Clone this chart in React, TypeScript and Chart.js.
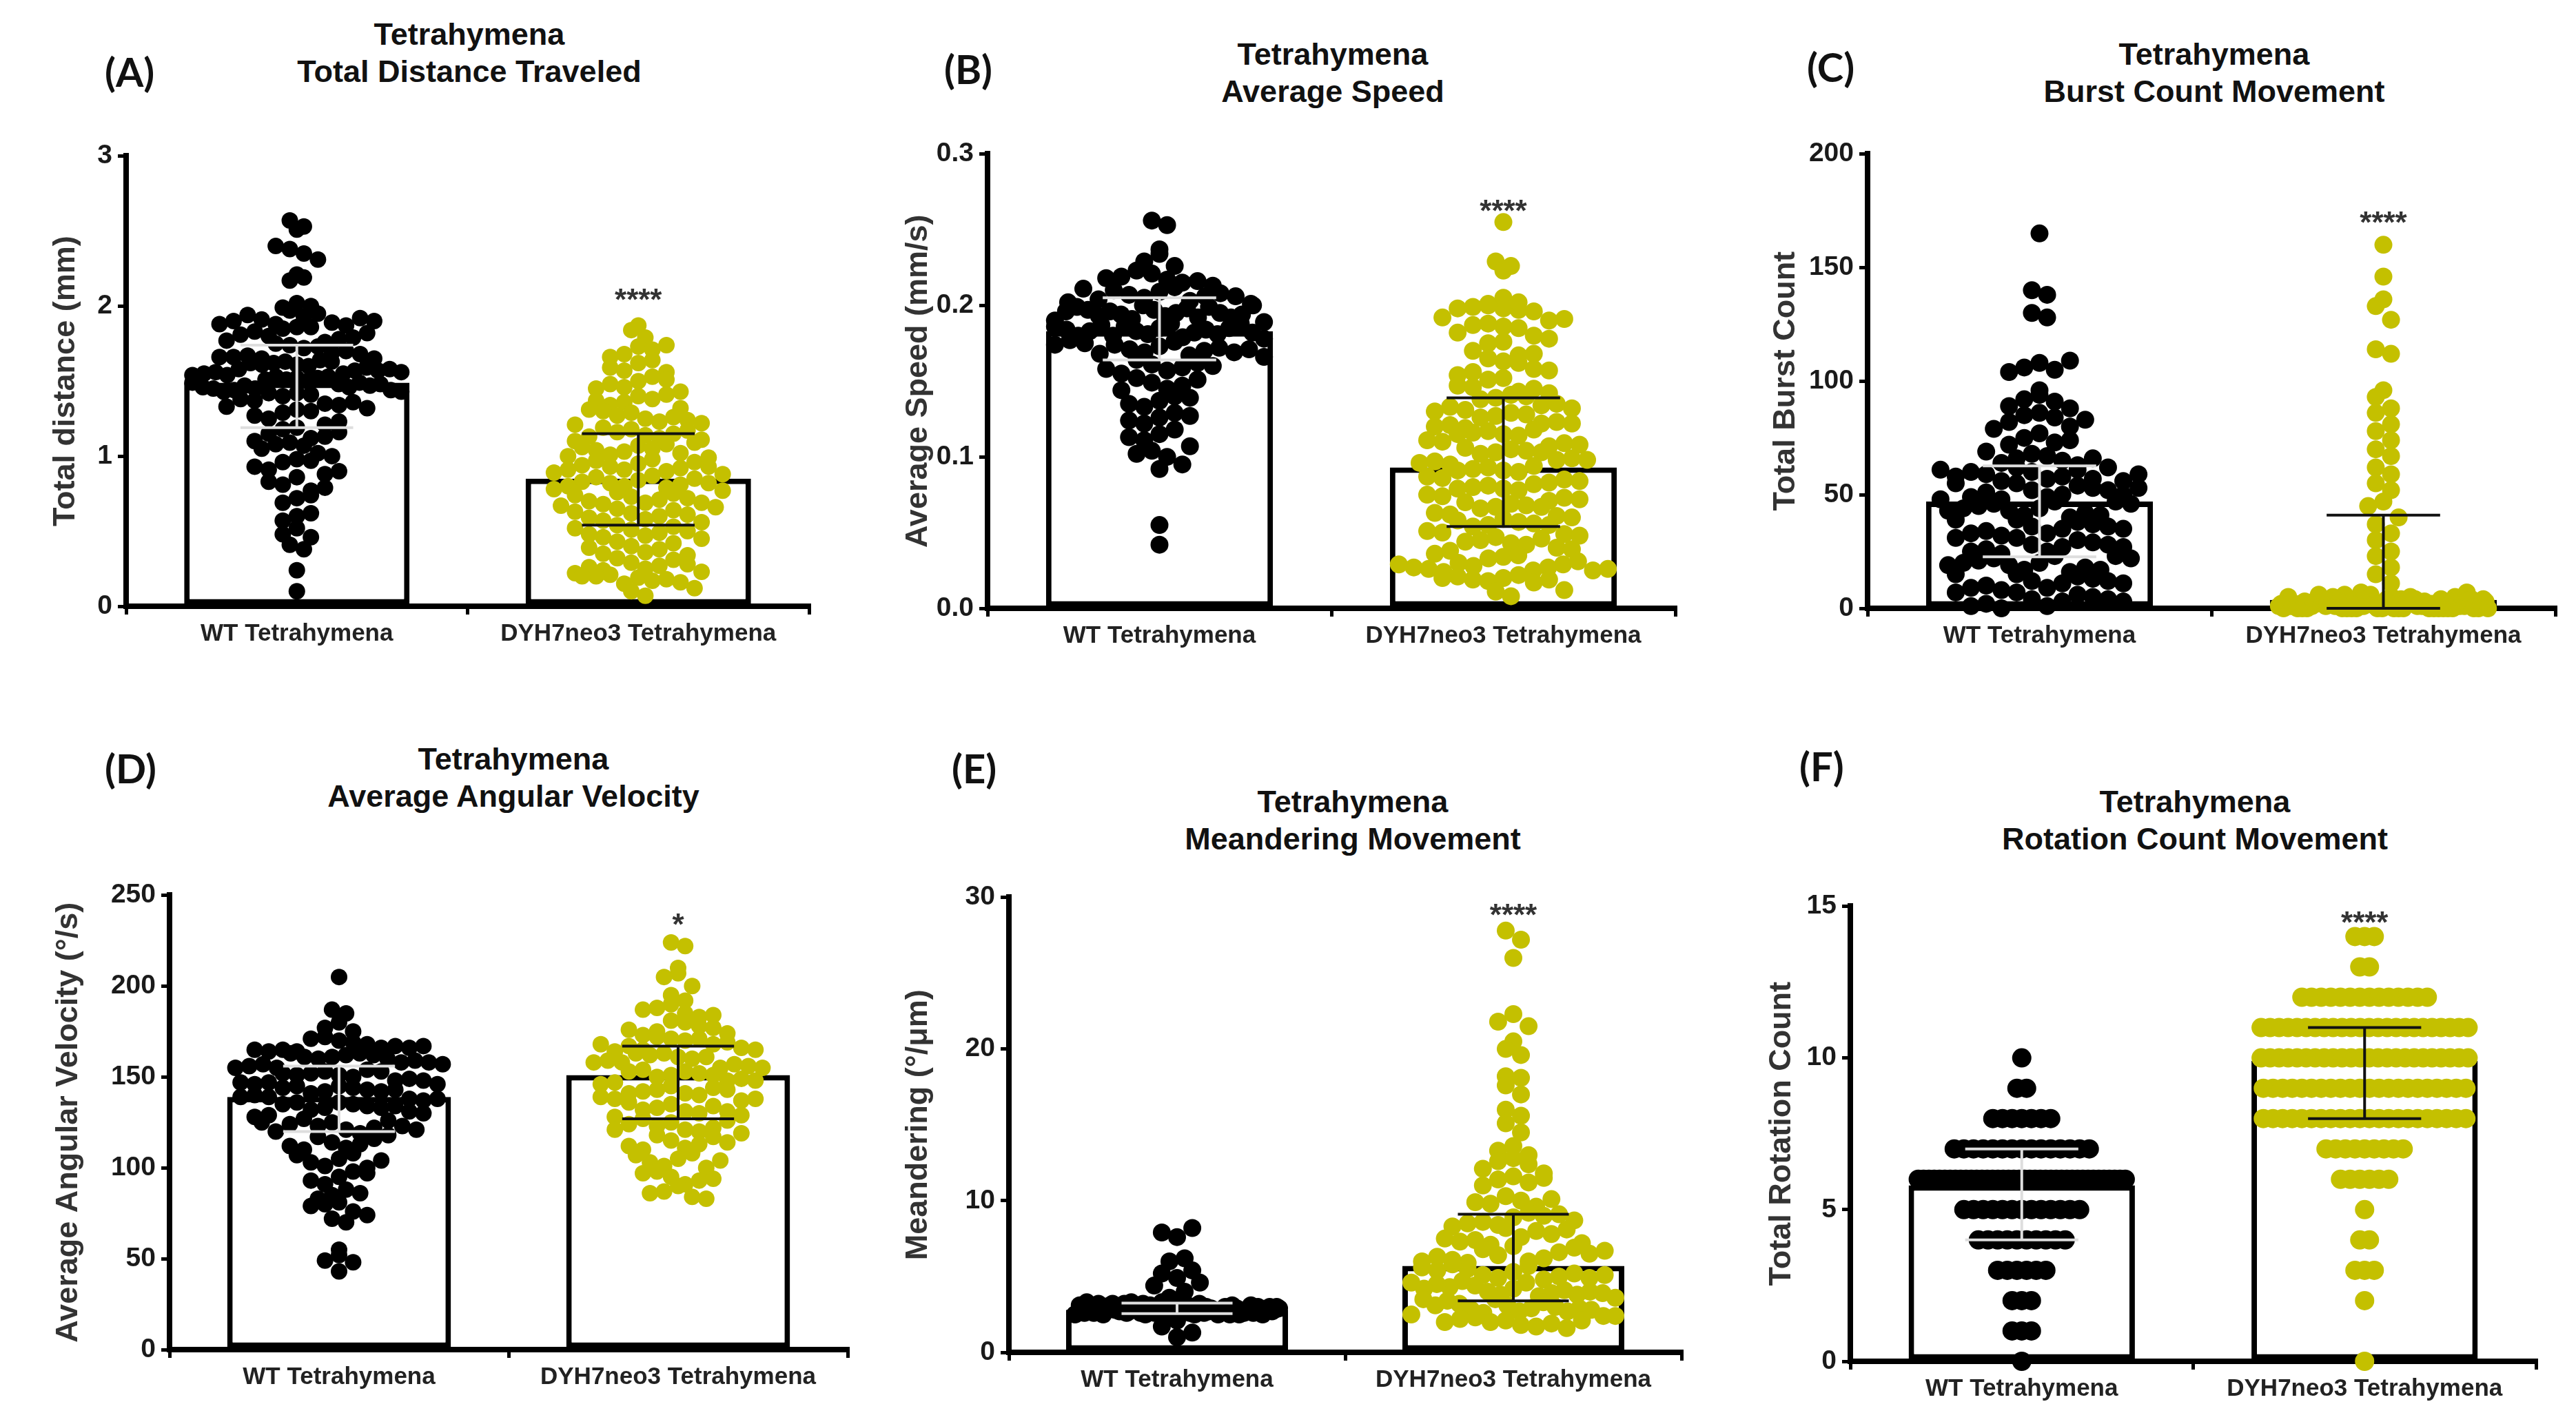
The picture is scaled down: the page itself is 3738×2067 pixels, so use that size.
import React, { useEffect, useRef } from 'react';
import { Chart, registerables } from 'chart.js';

Chart.register(...registerables);

// ---------------- DATA ----------------
const categories = ['WT Tetrahymena', 'DYH7neo3 Tetrahymena'];

// (A) Total distance traveled (mm)
const distanceWT = [2.57, 2.53, 2.51, 2.38, 2.35, 2.4, 2.31, 2.21, 2.17, 2.19, 2.02, 1.99, 2.0, 1.97,
  1.93, 1.88, 1.95, 1.86, 1.91, 1.89, 1.94, 1.87, 1.9, 1.92, 1.85, 1.88, 1.9, 1.86,
  1.8, 1.76, 1.83, 1.74, 1.78, 1.72, 1.81, 1.75, 1.79, 1.73, 1.77, 1.82,
  1.65, 1.61, 1.69, 1.63, 1.67, 1.6, 1.7, 1.62, 1.66, 1.64, 1.68, 1.61, 1.63, 1.66, 1.62, 1.65,
  1.55, 1.52, 1.58, 1.51, 1.57, 1.54, 1.59, 1.5, 1.56, 1.53, 1.57, 1.52, 1.55, 1.58, 1.54, 1.56, 1.51, 1.53,
  1.45, 1.48, 1.42, 1.47, 1.4, 1.46, 1.44, 1.49, 1.41, 1.43, 1.47, 1.45, 1.48, 1.42, 1.46, 1.44, 1.49, 1.43,
  1.35, 1.31, 1.37, 1.29, 1.34, 1.38, 1.3, 1.36, 1.33, 1.32,
  1.25, 1.21, 1.27, 1.19, 1.23, 1.18,
  1.12, 1.09, 1.15, 1.07, 1.13, 1.1, 1.16, 1.08,
  1.02, 0.98, 1.05, 0.96, 1.0, 0.97,
  0.91, 0.88, 0.93, 0.86, 0.9,
  0.81, 0.77, 0.83, 0.79, 0.72, 0.69, 0.74, 0.6, 0.57, 0.62, 0.52, 0.48, 0.46, 0.41, 0.38, 0.24, 0.1];
const distanceDYH = [1.87, 1.84, 1.79, 1.73, 1.68, 1.71, 1.66, 1.74, 1.62, 1.57, 1.64, 1.59, 1.56,
  1.5, 1.46, 1.53, 1.48, 1.51, 1.45, 1.4, 1.36, 1.43, 1.38, 1.34, 1.41, 1.37,
  1.29, 1.25, 1.32, 1.27, 1.23, 1.3, 1.26, 1.31, 1.24,
  1.18, 1.14, 1.21, 1.16, 1.12, 1.19, 1.15, 1.22, 1.13, 1.17,
  1.07, 1.03, 1.1, 1.05, 1.01, 1.08, 1.04, 1.11, 1.02, 1.06, 1.09,
  0.95, 0.91, 0.98, 0.93, 0.9, 0.97, 0.92, 1.0, 0.94, 0.96, 0.91, 0.99, 0.93,
  0.84, 0.8, 0.87, 0.82, 0.79, 0.86, 0.81, 0.89, 0.83, 0.85, 0.8, 0.88, 0.82,
  0.73, 0.69, 0.76, 0.71, 0.68, 0.75, 0.7, 0.78, 0.72, 0.74, 0.69, 0.77,
  0.62, 0.58, 0.65, 0.6, 0.57, 0.64, 0.59, 0.67, 0.61, 0.63, 0.66,
  0.51, 0.47, 0.54, 0.49, 0.46, 0.53, 0.48, 0.56, 0.5, 0.52,
  0.4, 0.36, 0.43, 0.38, 0.35, 0.42, 0.39, 0.45,
  0.29, 0.25, 0.32, 0.27, 0.24, 0.31, 0.26, 0.34, 0.28,
  0.19, 0.15, 0.22, 0.17, 0.21, 0.18, 0.2, 0.16, 0.23, 0.2, 0.12, 0.1, 0.07];
const distanceMean = [1.49, 0.85];
const distanceLow = [1.19, 0.54];
const distanceHigh = [1.74, 1.15];
const distanceTicks = [0, 1, 2, 3];

// (B) Average speed (mm/s)
const speedWT = [0.256, 0.253, 0.237, 0.234, 0.229, 0.226,
  0.221, 0.217, 0.223, 0.215, 0.219, 0.216, 0.218,
  0.209, 0.205, 0.212, 0.207, 0.203, 0.21, 0.206, 0.213, 0.204, 0.208, 0.211, 0.206,
  0.197, 0.193, 0.2, 0.195, 0.191, 0.198, 0.194, 0.202, 0.192, 0.196, 0.199, 0.193, 0.201, 0.195, 0.197, 0.192, 0.199, 0.194, 0.196, 0.2,
  0.185, 0.181, 0.188, 0.183, 0.179, 0.186, 0.182, 0.19, 0.18, 0.184, 0.187, 0.181, 0.189, 0.183, 0.185, 0.18, 0.188, 0.184, 0.182, 0.186,
  0.173, 0.169, 0.176, 0.171, 0.167, 0.174, 0.17, 0.178, 0.168, 0.172, 0.175, 0.169, 0.177, 0.171, 0.174,
  0.161, 0.157, 0.164, 0.159, 0.155, 0.162, 0.158, 0.166, 0.16,
  0.149, 0.145, 0.152, 0.147, 0.144, 0.151,
  0.137, 0.133, 0.14, 0.135, 0.139, 0.126, 0.122, 0.129, 0.124, 0.127,
  0.115, 0.111, 0.118, 0.113, 0.104, 0.1, 0.107, 0.102, 0.095, 0.092, 0.055, 0.042];
const speedDYH = [0.255, 0.229, 0.226, 0.223, 0.205,
  0.201, 0.198, 0.2, 0.197, 0.199, 0.196, 0.202, 0.198,
  0.19, 0.186, 0.192, 0.188, 0.185, 0.191, 0.187,
  0.18, 0.176, 0.182, 0.178, 0.175,
  0.167, 0.163, 0.17, 0.165, 0.162, 0.168,
  0.156, 0.152, 0.158, 0.154, 0.151, 0.157,
  0.143, 0.139, 0.146, 0.141, 0.138, 0.145, 0.14, 0.147, 0.142,
  0.131, 0.127, 0.134, 0.129, 0.126, 0.133, 0.128, 0.135, 0.13, 0.132,
  0.119, 0.115, 0.122, 0.117, 0.114, 0.121, 0.116, 0.123, 0.118, 0.12, 0.115, 0.122,
  0.107, 0.103, 0.11, 0.105, 0.102, 0.109, 0.104, 0.111, 0.106, 0.108, 0.103,
  0.095, 0.091, 0.098, 0.093, 0.09, 0.097, 0.092, 0.099, 0.094, 0.096, 0.091, 0.098,
  0.083, 0.079, 0.086, 0.081, 0.078, 0.085, 0.08, 0.087, 0.082, 0.084, 0.079,
  0.071, 0.067, 0.074, 0.069, 0.066, 0.073, 0.068, 0.075, 0.07, 0.072, 0.067,
  0.059, 0.055, 0.062, 0.057, 0.054, 0.061, 0.056, 0.063, 0.058, 0.06, 0.055,
  0.047, 0.043, 0.05, 0.045, 0.042, 0.049, 0.044, 0.051, 0.046, 0.048,
  0.038, 0.034, 0.04, 0.036, 0.033, 0.039, 0.035,
  0.028, 0.025, 0.03, 0.027, 0.024, 0.029, 0.026, 0.031, 0.027, 0.025, 0.029, 0.026,
  0.02, 0.018, 0.022, 0.019, 0.017, 0.021, 0.019, 0.02, 0.012, 0.011, 0.008];
const speedMean = [0.183, 0.093];
const speedLow = [0.164, 0.054];
const speedHigh = [0.205, 0.139];
const speedTicks = [0, 0.1, 0.2, 0.3];

// (C) Total burst count
const burstWT = [165, 140, 138, 130, 128, 108, 106, 105, 104, 109, 96, 94, 92, 91, 89, 88, 86,
  85, 84, 82, 80, 79, 83, 77, 75, 73, 72, 74, 68, 67, 66, 65, 64, 63, 69, 66,
  60, 57, 62, 58, 56, 61, 59, 57, 60, 62, 58, 56, 61, 59,
  52, 49, 55, 50, 48, 54, 51, 53, 49, 52, 55, 50, 48, 53,
  44, 41, 47, 43, 40, 46, 42, 45, 41, 44, 47, 43, 46,
  36, 33, 39, 35, 32, 38, 34, 37, 33, 36, 39, 35,
  28, 25, 31, 27, 24, 30, 26, 29, 25, 28, 31, 27,
  20, 17, 23, 19, 16, 22, 18, 21, 17, 20, 23, 19, 22,
  12, 9, 15, 11, 8, 14, 10, 13, 9, 12, 15, 11,
  4, 1, 7, 3, 0, 6, 2, 5, 1, 4, 7, 3];
const burstDYH = [160, 146, 136, 133, 127, 114, 112, 96, 93, 88, 86, 81, 78, 74, 70, 67, 62, 59, 55,
  52, 47, 45, 40, 37, 33, 30, 25, 23, 18, 15, 11,
  0, 2, 1, 4, 0, 3, 1, 5, 2, 0, 6, 1, 3, 0, 2, 4, 1, 0, 7, 2, 1, 3, 0, 5, 1, 2, 0, 4, 3, 1, 0, 2, 6, 1,
  0, 3, 2, 1, 4, 0, 1, 2, 5, 0, 3, 1, 2, 0, 1, 4, 2, 0, 3, 1, 6, 0, 2, 1, 3, 0, 1, 5, 2, 4, 0, 1, 3, 2,
  0, 1, 2, 7, 0, 3, 1, 4, 2, 0, 1, 3, 5, 0, 2, 1, 0, 4, 2, 3, 1, 0];
const burstMean = [47, 3.7];
const burstLow = [22.7, 0];
const burstHigh = [62.7, 41];
const burstTicks = [0, 50, 100, 150, 200];

// (D) Average angular velocity (deg/s)
const angularWT = [205, 187, 185, 180, 177, 175, 170, 172, 169, 171, 168,
  164, 161, 166, 162, 160, 165, 163, 167, 161, 164, 166, 162, 165, 163, 160, 167,
  155, 151, 158, 153, 150, 157, 152, 159, 154, 156, 151, 158, 153, 155, 157, 152,
  145, 142, 148, 144, 141, 147, 143, 149, 145, 146, 142, 148, 144, 147, 143, 146,
  136, 133, 139, 135, 132, 138, 134, 140, 136, 137, 133, 139, 135, 138, 134,
  125, 121, 129, 123, 119, 127, 122, 131, 124, 126, 120, 128, 123, 130, 125, 121,
  114, 111, 117, 113, 110, 116, 112, 118, 105, 101, 108, 103, 100, 107, 104,
  95, 91, 98, 93, 97, 85, 81, 88, 83, 80, 86, 76, 72, 79, 74, 70, 55, 52, 49, 48, 43];
const angularDYH = [224, 222, 210, 207, 205, 200, 195, 192, 190,
  185, 181, 188, 183, 180, 187, 184, 175, 171, 178, 173, 170, 177, 172, 176, 174, 171,
  165, 161, 168, 163, 160, 167, 162, 169, 164, 166, 161, 168, 163, 165,
  155, 151, 158, 153, 150, 157, 152, 159, 154, 156, 151, 158, 153, 155,
  145, 141, 148, 143, 140, 147, 142, 149, 144, 146, 141, 148, 143,
  135, 131, 138, 133, 130, 137, 132, 139, 134, 136, 131, 138,
  125, 121, 128, 123, 120, 127, 122, 129, 124, 126, 121,
  115, 111, 118, 113, 110, 117, 112, 119, 114,
  105, 101, 108, 103, 100, 107, 104, 95, 91, 98, 93, 90, 97, 94, 87, 84, 86, 83];
const angularMean = [139, 151];
const angularLow = [120, 127];
const angularHigh = [156, 167];
const angularTicks = [0, 50, 100, 150, 200, 250];

// (E) Meandering (deg/um)
const meanderWT = [2.8, 2.5, 3.1, 2.6, 2.9, 3.2, 2.7, 3.0, 2.5, 3.1, 2.8, 2.6, 3.3, 2.7, 2.9, 2.5, 3.0, 2.8, 2.6, 3.2,
  2.7, 2.9, 3.1, 2.6, 2.8, 3.0, 2.5, 2.7, 3.2, 2.9, 2.6, 2.8, 3.1, 2.7, 3.0, 2.5, 2.9, 2.6, 3.3, 2.8,
  2.7, 3.0, 2.6, 2.9, 3.2, 2.5, 2.8, 3.1, 2.7, 2.6, 3.0, 2.9, 2.8, 2.5, 3.2, 2.7, 3.1, 2.6, 2.9, 2.8,
  3.0, 2.7, 2.5, 3.1, 2.8, 2.6, 3.2, 2.9, 2.7, 3.0, 2.6, 2.8, 3.1, 2.5, 2.9, 2.7, 3.3, 2.8, 2.6, 3.0,
  2.9, 2.7, 3.1, 2.8, 2.6, 3.0, 2.5, 2.9,
  2.1, 1.7, 1.3, 1.0,
  3.6, 4.0, 4.4, 4.6, 4.9, 5.2, 5.4, 6.0, 6.2, 7.6, 7.9, 8.2];
const meanderDYH = [27.8, 27.2, 26.0, 22.3, 21.8, 21.5, 20.5, 20.0, 19.6, 18.2, 18.1, 17.6, 17.0,
  16.0, 15.6, 15.1, 14.5, 13.6, 13.3, 13.0, 12.8, 12.6, 12.4, 12.1, 11.8, 11.6, 11.4, 11.2, 11.0, 11.5,
  10.3, 10.0, 9.8, 9.6, 9.9, 10.1, 8.9, 8.4, 9.2, 8.6, 8.2, 9.0, 8.5, 9.1, 8.3, 8.7,
  7.6, 7.1, 8.0, 7.4, 7.0, 7.8, 7.3, 8.1, 7.5, 7.2,
  6.4, 6.0, 6.8, 6.2, 5.9, 6.6, 6.1, 6.9, 6.3, 6.5, 6.0, 6.7,
  5.3, 4.9, 5.7, 5.1, 4.8, 5.5, 5.0, 5.8, 5.2, 5.4, 4.9, 5.6, 5.1,
  4.2, 3.8, 4.6, 4.0, 3.7, 4.4, 3.9, 4.7, 4.1, 4.3, 3.8, 4.5, 4.0, 4.2, 3.9, 4.6,
  3.1, 2.7, 3.5, 2.9, 2.6, 3.3, 2.8, 3.6, 3.0, 3.2, 2.7, 3.4, 2.9, 3.1, 2.8, 3.5,
  2.1, 1.8, 2.4, 2.0, 1.7, 2.3, 1.9, 2.5, 2.2, 1.6, 2.0, 2.4, 2.1];
const meanderMean = [2.8, 5.7];
const meanderLow = [2.55, 3.4];
const meanderHigh = [3.25, 9.1];
const meanderTicks = [0, 10, 20, 30];

// (F) Total rotation count: number of cells observed at each count level
const rotationLevels = [0, 1, 2, 3, 4, 5, 6, 7, 8, 9, 10, 11, 12, 13, 14];
const rotationCountsWT = [1, 3, 3, 6, 10, 13, 40, 15, 7, 2, 1, 0, 0, 0, 0];
const rotationCountsDYH = [1, 0, 1, 3, 2, 1, 6, 9, 22, 22, 24, 24, 14, 2, 3];
const rotationMean = [5.8, 9.9];
const rotationLow = [4.0, 8.0];
const rotationHigh = [7.0, 11.0];
const rotationTicks = [0, 5, 10, 15];

function expandCounts(levels: number[], counts: number[]): number[] {
  const out: number[] = [];
  levels.forEach((lv, i) => { for (let k = 0; k < counts[i]; k++) out.push(lv); });
  return out;
}

// ---------------- STYLE / LAYOUT ----------------
const FONT = "'Liberation Sans', Arial, sans-serif";
const GROUP_COLORS = ['#000000', '#c4c000'];
const ERR_COLORS = ['#dedede', '#111111'];
const X_MIN = -0.5;
const X_MAX = 1.5;
const BAR_PCT = 0.66;
const CAP = 0.165;
const PAD_TOP = 30;
const PAD_RIGHT = 20;
const X_AXIS_H = 72;
const Y_TITLE_SIZE = 45;

type PanelCfg = {
  label: string; labelX: number; labelY: number;
  title: string[]; titleX: number; titleY: number;
  axisX: number; axisTop: number; axisBottom: number; axisRight: number;
  yTitle: string; yTitleX: number; yMax: number; yTicks: number[]; decimals: number;
  groups: number[][]; mean: number[]; low: number[]; high: number[];
  dotD: number; step: number; sig: string; sigValue: number;
};

const panels: PanelCfg[] = [
  { label: '(A)', labelX: 152, labelY: 104, title: ['Tetrahymena', 'Total Distance Traveled'], titleX: 681, titleY: 50,
    axisX: 183, axisTop: 225, axisBottom: 880, axisRight: 1174, yTitle: 'Total distance (mm)', yTitleX: 96,
    yMax: 3, yTicks: distanceTicks, decimals: 0, groups: [distanceWT, distanceDYH], mean: distanceMean, low: distanceLow, high: distanceHigh,
    dotD: 24, step: 0.85, sig: '****', sigValue: 2.09 },
  { label: '(B)', labelX: 1370, labelY: 100, title: ['Tetrahymena', 'Average Speed'], titleX: 1934, titleY: 79,
    axisX: 1433, axisTop: 222, axisBottom: 883, axisRight: 2431, yTitle: 'Average Speed (mm/s)', yTitleX: 1333,
    yMax: 0.3, yTicks: speedTicks, decimals: 1, groups: [speedWT, speedDYH], mean: speedMean, low: speedLow, high: speedHigh,
    dotD: 26, step: 0.85, sig: '****', sigValue: 0.267 },
  { label: '(C)', labelX: 2622, labelY: 97, title: ['Tetrahymena', 'Burst Count Movement'], titleX: 3213, titleY: 79,
    axisX: 2710, axisTop: 222, axisBottom: 883, axisRight: 3708, yTitle: 'Total Burst Count', yTitleX: 2592,
    yMax: 200, yTicks: burstTicks, decimals: 0, groups: [burstWT, burstDYH], mean: burstMean, low: burstLow, high: burstHigh,
    dotD: 26, step: 0.85, sig: '****', sigValue: 173 },
  { label: '(D)', labelX: 152, labelY: 1115, title: ['Tetrahymena', 'Average Angular Velocity'], titleX: 745, titleY: 1102,
    axisX: 246, axisTop: 1298, axisBottom: 1959, axisRight: 1230, yTitle: 'Average Angular Velocity (°/s)', yTitleX: 100,
    yMax: 250, yTicks: angularTicks, decimals: 0, groups: [angularWT, angularDYH], mean: angularMean, low: angularLow, high: angularHigh,
    dotD: 24, step: 0.85, sig: '*', sigValue: 238 },
  { label: '(E)', labelX: 1381, labelY: 1115, title: ['Tetrahymena', 'Meandering Movement'], titleX: 1963, titleY: 1164,
    axisX: 1464, axisTop: 1301, axisBottom: 1963, axisRight: 2440, yTitle: 'Meandering (°/μm)', yTitleX: 1333,
    yMax: 30, yTicks: meanderTicks, decimals: 0, groups: [meanderWT, meanderDYH], mean: meanderMean, low: meanderLow, high: meanderHigh,
    dotD: 26, step: 0.85, sig: '****', sigValue: 29.3 },
  { label: '(F)', labelX: 2611, labelY: 1112, title: ['Tetrahymena', 'Rotation Count Movement'], titleX: 3185, titleY: 1164,
    axisX: 2685, axisTop: 1314, axisBottom: 1976, axisRight: 3680, yTitle: 'Total Rotation Count', yTitleX: 2586,
    yMax: 15, yTicks: rotationTicks, decimals: 0,
    groups: [expandCounts(rotationLevels, rotationCountsWT), expandCounts(rotationLevels, rotationCountsDYH)],
    mean: rotationMean, low: rotationLow, high: rotationHigh, dotD: 28, step: 0.5, sig: '****', sigValue: 14.7 },
];

// beeswarm layout: rows one dot tall, dots spread symmetrically, squeezed to the bar width
function swarmOffsets(values: number[], yMax: number, plotH: number, dotD: number, stepFactor: number, maxSpan: number): number[] {
  const bins = new Map<number, number[]>();
  values.forEach((v, i) => {
    const b = Math.floor(((v / yMax) * plotH) / dotD);
    if (!bins.has(b)) bins.set(b, []);
    bins.get(b)!.push(i);
  });
  const off = new Array(values.length).fill(0);
  bins.forEach((idx) => {
    const n = idx.length;
    if (n < 2) return;
    const step = Math.min(dotD * stepFactor, maxSpan / (n - 1));
    const slots = Array.from({ length: n }, (_, k) => (k - (n - 1) / 2) * step);
    slots.sort((a, b) => Math.abs(a) - Math.abs(b) || a - b);
    idx.forEach((pi, k) => { off[pi] = slots[k]; });
  });
  return off;
}

const overlayPlugin = {
  id: 'overlay',
  afterDatasetsDraw(chart: any, _args: any, opts: any) {
    const { ctx } = chart;
    const x = chart.scales.x;
    const y = chart.scales.y;
    ctx.save();
    opts.low.forEach((lo: number, i: number) => {
      const hi = opts.high[i];
      const px = x.getPixelForValue(i);
      const cl = x.getPixelForValue(i - CAP);
      const cr = x.getPixelForValue(i + CAP);
      const pl = y.getPixelForValue(lo);
      const ph = y.getPixelForValue(hi);
      ctx.strokeStyle = ERR_COLORS[i];
      ctx.lineWidth = 4;
      ctx.beginPath();
      ctx.moveTo(px, pl); ctx.lineTo(px, ph);
      ctx.moveTo(cl, pl); ctx.lineTo(cr, pl);
      ctx.moveTo(cl, ph); ctx.lineTo(cr, ph);
      ctx.stroke();
    });
    const size = 44;
    ctx.font = `bold ${size}px ${FONT}`;
    ctx.fillStyle = '#333';
    ctx.textAlign = 'center';
    ctx.textBaseline = 'alphabetic';
    ctx.fillText(opts.sig, x.getPixelForValue(1), y.getPixelForValue(opts.sigValue) + size * 0.58);
    ctx.restore();
  },
};

function Panel({ cfg }: { cfg: PanelCfg }) {
  const ref = useRef<HTMLCanvasElement>(null);
  const yAxisW = cfg.axisX - (cfg.yTitleX - (Y_TITLE_SIZE * 1.2) / 2);
  const left = cfg.axisX - yAxisW;
  const top = cfg.axisTop - PAD_TOP;
  const width = cfg.axisRight + PAD_RIGHT - left;
  const height = cfg.axisBottom + X_AXIS_H - top;

  useEffect(() => {
    if (!ref.current) return;
    const plotW = cfg.axisRight - cfg.axisX;
    const plotH = cfg.axisBottom - cfg.axisTop;
    const unitPx = plotW / (X_MAX - X_MIN);
    const maxSpan = unitPx * BAR_PCT - cfg.dotD;
    const datasets: any[] = [
      {
        type: 'bar', data: cfg.mean.map((m, i) => ({ x: i, y: m })),
        backgroundColor: '#ffffff', borderColor: '#000000', borderWidth: 8, borderSkipped: false,
        barPercentage: BAR_PCT, categoryPercentage: 1, order: 2,
      },
    ];
    cfg.groups.forEach((vals, g) => {
      const off = swarmOffsets(vals, cfg.yMax, plotH, cfg.dotD, cfg.step, maxSpan);
      datasets.push({
        type: 'scatter', data: vals.map((v, i) => ({ x: g + off[i] / unitPx, y: v })),
        pointRadius: cfg.dotD / 2, pointHoverRadius: cfg.dotD / 2, pointBackgroundColor: GROUP_COLORS[g],
        pointBorderWidth: 0, borderWidth: 0, order: 1, clip: false,
      });
    });
    const gridOpts = { drawOnChartArea: false, drawTicks: true, tickLength: 12, lineWidth: 5, color: '#000' };
    const borderOpts = { display: true, width: 8, color: '#000' };
    const chart = new Chart(ref.current, {
      type: 'bar',
      data: { datasets },
      plugins: [overlayPlugin],
      options: {
        animation: false,
        responsive: false,
        events: [],
        layout: { padding: { top: PAD_TOP, right: PAD_RIGHT, left: 0, bottom: 0 } },
        plugins: {
          legend: { display: false },
          tooltip: { enabled: false },
          overlay: { low: cfg.low, high: cfg.high, sig: cfg.sig, sigValue: cfg.sigValue },
        } as any,
        scales: {
          x: {
            type: 'linear', min: X_MIN, max: X_MAX, offset: false,
            afterBuildTicks: (s: any) => { s.ticks = categories.map((_, i) => ({ value: i })); },
            afterFit: (s: any) => { s.height = X_AXIS_H; },
            ticks: {
              callback: (v: any) => categories[Math.round(Number(v))] ?? '',
              font: { family: FONT, size: 35, weight: 'bold' }, color: '#222', padding: 7,
              maxRotation: 0, minRotation: 0, autoSkip: false,
            },
            grid: gridOpts, border: borderOpts,
          },
          y: {
            type: 'linear', min: 0, max: cfg.yMax,
            afterBuildTicks: (s: any) => { s.ticks = cfg.yTicks.map((v) => ({ value: v })); },
            afterFit: (s: any) => { s.width = yAxisW; },
            ticks: {
              callback: (v: any) => Number(v).toFixed(cfg.decimals),
              font: { family: FONT, size: 39, weight: 'bold' }, color: '#1a1a1a', padding: 8,
            },
            grid: gridOpts, border: borderOpts,
            title: { display: true, text: cfg.yTitle, font: { family: FONT, size: Y_TITLE_SIZE, weight: 'bold' }, color: '#333', padding: 0 },
          },
        } as any,
      },
    } as any);
    return () => chart.destroy();
  }, []);

  return (
    <>
      <div style={{ position: 'absolute', left: cfg.labelX, top: cfg.labelY - 35, height: 70, lineHeight: '70px',
        fontFamily: 'Lato, sans-serif', fontWeight: 700, fontSize: 58, color: '#111', whiteSpace: 'nowrap' }}>{cfg.label}</div>
      <div style={{ position: 'absolute', left: cfg.titleX - 500, width: 1000, top: cfg.titleY - 27, textAlign: 'center',
        fontFamily: FONT, fontWeight: 700, fontSize: 45, lineHeight: '54px', color: '#111' }}>
        {cfg.title.map((t, i) => <div key={i}>{t}</div>)}
      </div>
      <canvas ref={ref} width={width} height={height}
        style={{ position: 'absolute', left, top, width, height }} />
    </>
  );
}

export default function App() {
  return (
    <div style={{ position: 'absolute', left: 0, top: 0, width: 3738, height: 2067, background: '#fff', overflow: 'hidden' }}>
      {panels.map((p) => <Panel key={p.label} cfg={p} />)}
    </div>
  );
}
